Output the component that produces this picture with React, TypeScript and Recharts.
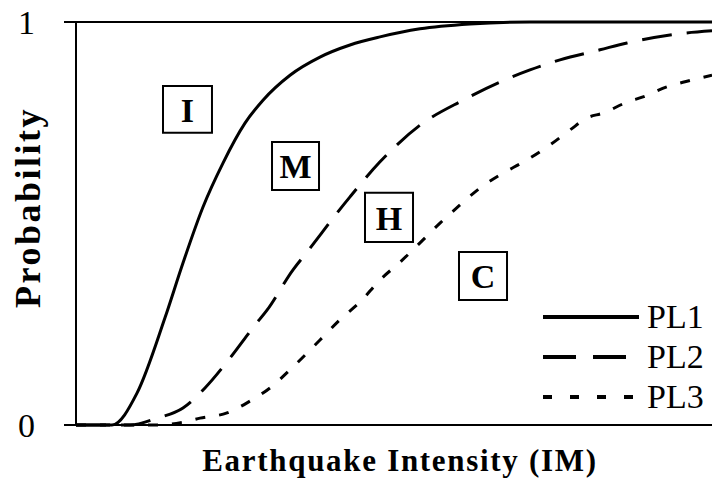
import React from 'react';
import { LineChart, Line, XAxis, YAxis, ReferenceLine, ReferenceArea, Legend } from 'recharts';

const FONT = '"Liberation Serif", "Times New Roman", serif';

// Intensity (arbitrary units 0..10) and probability for each performance level
const pl1X = [0, 0.566, 0.959, 1.399, 1.682, 1.997, 2.311, 2.657, 2.94, 3.365, 3.836, 4.308, 4.78, 5.409, 6.195, 7.138, 10];
const pl1Y = [0, 0, 0.079, 0.266, 0.402, 0.541, 0.65, 0.749, 0.806, 0.868, 0.913, 0.943, 0.963, 0.983, 0.995, 1, 1];

const pl2X = [0, 0.849, 1.274, 1.682, 2.028, 2.421, 2.814, 3.003, 3.412, 3.632, 4.104, 4.308, 4.78, 5.409, 6.085, 6.667, 7.138, 7.61, 8.239, 8.664, 9.34, 10];
const pl2Y = [0, 0, 0.017, 0.042, 0.092, 0.166, 0.248, 0.285, 0.385, 0.429, 0.526, 0.566, 0.653, 0.744, 0.806, 0.851, 0.881, 0.906, 0.931, 0.948, 0.968, 0.978];

const pl3X = [0, 1.321, 1.682, 1.95, 2.374, 2.689, 3.05, 3.443, 3.836, 4.182, 4.465, 4.78, 5.094, 5.409, 5.723, 6.038, 6.352, 6.714, 7.028, 7.453, 7.767, 8.035, 8.286, 8.664, 8.915, 9.292, 9.607, 10];
const pl3Y = [0, 0, 0.007, 0.017, 0.03, 0.055, 0.092, 0.149, 0.211, 0.266, 0.305, 0.36, 0.404, 0.452, 0.501, 0.546, 0.588, 0.625, 0.652, 0.695, 0.732, 0.762, 0.774, 0.801, 0.814, 0.839, 0.853, 0.868];

const yTicks = [0, 1];
const seriesNames = ['PL1', 'PL2', 'PL3'];

// Damage-state annotation boxes
const boxLabels = ['I', 'M', 'H', 'C'];
const boxX1 = [1.368, 3.082, 4.544, 6.022];
const boxX2 = [2.138, 3.821, 5.299, 6.777];
const boxY1 = [0.725, 0.583, 0.454, 0.31];
const boxY2 = [0.841, 0.702, 0.576, 0.429];

const zip = (xs: number[], ys: number[]) => xs.map((x, i) => ({ x, y: ys[i] }));
const pl1 = zip(pl1X, pl1Y);
const pl2 = zip(pl2X, pl2Y);
const pl3 = zip(pl3X, pl3Y);

const legendDash = ['0', '33 17', '9 18'];

const LegendContent = () => (
  <div style={{ fontFamily: FONT }}>
    {seriesNames.map((n, i) => (
      <div key={n} style={{ display: 'flex', alignItems: 'center', height: 40 }}>
        <svg width={104} height={10} style={{ display: 'block' }}>
          <line x1={0} y1={5} x2={96} y2={5} stroke="#000" strokeWidth={4} strokeDasharray={legendDash[i]} />
        </svg>
        <span style={{ fontSize: 34, lineHeight: '40px', color: '#000' }}>{n}</span>
      </div>
    ))}
  </div>
);

export default function App() {
  return (
    <div style={{ position: 'absolute', left: 0, top: 0, background: '#fff' }}>
      <LineChart width={712} height={483} margin={{ top: 22, right: 0, bottom: 0, left: 0 }}>
        <XAxis
          type="number"
          dataKey="x"
          domain={[0, 10]}
          tick={false}
          tickLine={false}
          height={58}
          axisLine={{ stroke: '#000', strokeWidth: 2 }}
          label={{
            content: (props: any) => {
              const vb = props.viewBox || { x: 76, y: 425, width: 636, height: 58 };
              return (
                <text x={vb.x + vb.width / 2 + 6} y={vb.y + 46} textAnchor="middle" fontFamily={FONT} fontWeight="bold" fontSize={31} letterSpacing={1.7} fill="#000">
                  Earthquake Intensity (IM)
                </text>
              );
            },
          }}
        />
        <YAxis
          type="number"
          domain={[0, 1]}
          ticks={yTicks}
          width={76}
          tickSize={12}
          tickMargin={29}
          axisLine={{ stroke: '#000', strokeWidth: 2 }}
          tickLine={{ stroke: '#000', strokeWidth: 2 }}
          tick={{ fontFamily: FONT, fontSize: 34, fill: '#000' }}
          label={{
            content: (props: any) => {
              const vb = props.viewBox || { x: 0, y: 22, width: 76, height: 403 };
              const cx = vb.x + 40;
              const cy = vb.y + vb.height / 2 - 16;
              return (
                <text x={cx} y={cy} transform={`rotate(-90 ${cx} ${cy})`} textAnchor="middle" fontFamily={FONT} fontWeight="bold" fontSize={36} letterSpacing={2.5} fill="#000">
                  Probability
                </text>
              );
            },
          }}
        />
        <ReferenceLine y={1} stroke="#000" strokeWidth={2} />
        {boxLabels.map((b, i) => (
          <ReferenceArea
            key={b}
            x1={boxX1[i]}
            x2={boxX2[i]}
            y1={boxY1[i]}
            y2={boxY2[i]}
            stroke="#000"
            strokeWidth={2}
            fill="none"
            fillOpacity={0}
            label={{ value: b, position: 'center', fontFamily: FONT, fontWeight: 'bold', fontSize: 34, fill: '#000' }}
          />
        ))}
        <Line data={pl1} dataKey="y" type="monotone" stroke="#000" strokeWidth={3} dot={false} isAnimationActive={false} />
        <Line data={pl2} dataKey="y" type="monotone" stroke="#000" strokeWidth={3} strokeDasharray="30 15" dot={false} isAnimationActive={false} />
        <Line data={pl3} dataKey="y" type="monotone" stroke="#000" strokeWidth={3} strokeDasharray="10 14" dot={false} isAnimationActive={false} />
        <Legend
          content={<LegendContent />}
          layout="vertical"
          align="center"
          verticalAlign="middle"
          wrapperStyle={{ position: 'absolute', left: 543, top: 297, width: 170 }}
        />
      </LineChart>
    </div>
  );
}
